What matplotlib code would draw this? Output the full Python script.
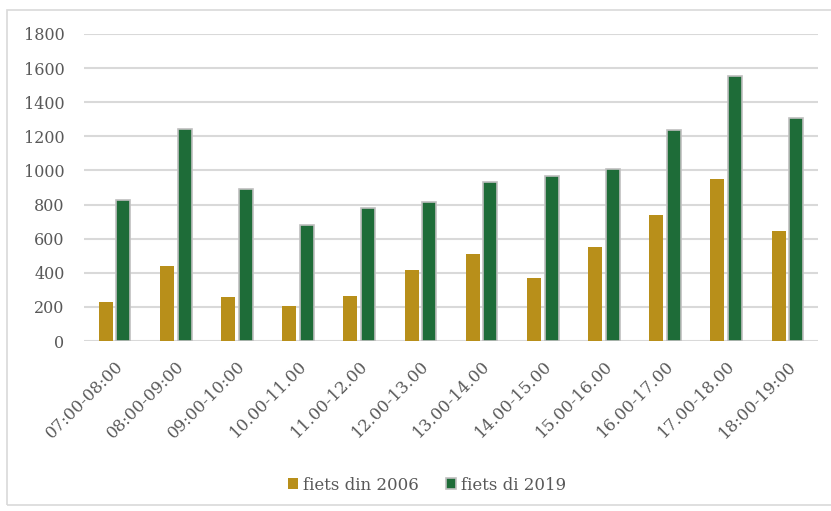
import numpy as np
import matplotlib
matplotlib.use("Agg")
import matplotlib.pyplot as plt
from matplotlib.patches import Rectangle

hours = ["07:00-08:00", "08:00-09:00", "09:00-10:00", "10.00-11.00",
         "11.00-12.00", "12.00-13.00", "13.00-14.00", "14.00-15.00",
         "15.00-16.00", "16.00-17.00", "17.00-18.00", "18:00-19:00"]
fiets_2006 = [230, 440, 258, 206, 261, 415, 513, 367, 549, 739, 948, 646]
fiets_2019 = [827, 1242, 889, 680, 780, 817, 932, 969, 1011, 1238, 1555, 1310]
y_ticks = [0, 200, 400, 600, 800, 1000, 1200, 1400, 1600, 1800]

GOLD = "#B88F1A"
GREEN = "#1E6C38"
TEXT = "#595959"
GRID = "#D9D9D9"

plt.rcParams["font.family"] = ["DejaVu Serif"]

fig = plt.figure(figsize=(8.31, 5.11), dpi=100)
ax = fig.add_axes([84 / 831, 1 - 341 / 511, 734 / 831, 307 / 511])

x = np.arange(len(hours))
w = 0.23
gap = 0.06
ax.bar(x - (w + gap) / 2, fiets_2006, width=w, color=GOLD, label="fiets din 2006", zorder=3)
ax.bar(x + (w + gap) / 2, fiets_2019, width=w, color=GREEN, edgecolor="#BFBFBF",
       linewidth=1.2, label="fiets di 2019", zorder=3)

ax.set_xlim(-0.5, len(hours) - 0.5)
ax.set_ylim(0, 1800)
ax.set_yticks(y_ticks)
ax.set_yticklabels([str(v) for v in y_ticks])
ax.yaxis.grid(True, color=GRID, linewidth=1.5, zorder=0)
ax.set_axisbelow(True)
for s in ax.spines.values():
    s.set_visible(False)
ax.tick_params(axis="both", length=0, colors=TEXT)
ax.tick_params(axis="y", pad=14, labelsize=11.5)
ax.set_xticks(x)
ax.set_xticklabels(hours, rotation=45, ha="right", rotation_mode="anchor")
ax.tick_params(axis="x", pad=12, labelsize=12)

# outer chart frame
fig.patches.append(Rectangle((7 / 831, 6 / 511), 1.2, 1 - 16 / 511,
                             transform=fig.transFigure, fill=False,
                             edgecolor="#D9D9D9", linewidth=1.2))

leg = fig.legend(loc="center", bbox_to_anchor=(427 / 831, 1 - 485 / 511), ncol=2,
                 frameon=False, fontsize=12, handlelength=0.6, handleheight=0.6,
                 handletextpad=0.3, columnspacing=1.6, labelcolor=TEXT)

fig.savefig("out.png", dpi=100)
